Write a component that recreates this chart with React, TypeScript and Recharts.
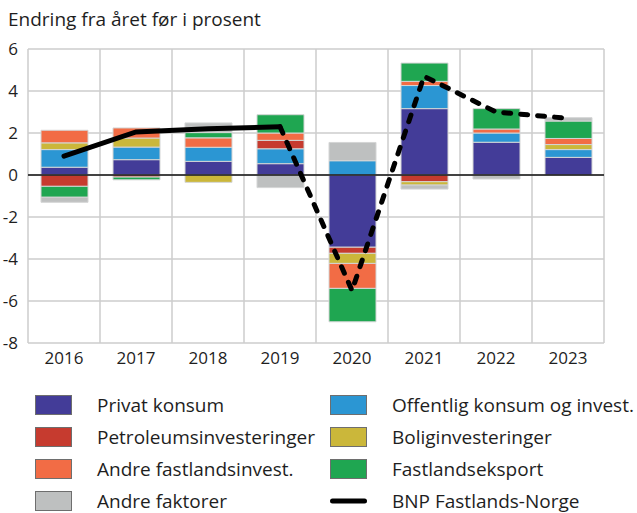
import { ComposedChart, Bar, Line, XAxis, YAxis, CartesianGrid, ReferenceLine } from 'recharts'

const years = ['2016', '2017', '2018', '2019', '2020', '2021', '2022', '2023']
const privatKonsum = [0.37, 0.73, 0.65, 0.54, -3.44, 3.16, 1.56, 0.84]
const offentlig = [0.84, 0.6, 0.67, 0.71, 0.68, 1.1, 0.44, 0.37]
const petroleum = [-0.54, -0.1, 0, 0.4, -0.29, -0.32, 0, 0]
const bolig = [0.32, 0.43, -0.35, 0, -0.48, -0.16, 0, 0.24]
const andreFastland = [0.6, 0.48, 0.45, 0.35, -1.19, 0.2, 0.19, 0.29]
const eksport = [-0.52, -0.13, 0.25, 0.87, -1.59, 0.87, 0.97, 0.83]
const andreFaktorer = [-0.24, 0, 0.46, -0.6, 0.87, -0.19, -0.19, 0.16]
const bnpSolid = [0.9, 2.05, 2.2, 2.3, null, null, null, null]
const bnpDashed = [null, null, null, 2.3, -5.5, 4.7, 3.0, 2.7]
const yTicks = [-8, -6, -4, -2, 0, 2, 4, 6]

const series = [
  { key: 'privat', name: 'Privat konsum', color: '#433c98', values: privatKonsum },
  { key: 'offentlig', name: 'Offentlig konsum og invest.', color: '#2b96d3', values: offentlig },
  { key: 'petroleum', name: 'Petroleumsinvesteringer', color: '#c63b2f', values: petroleum },
  { key: 'bolig', name: 'Boliginvesteringer', color: '#cbb73a', values: bolig },
  { key: 'andre', name: 'Andre fastlandsinvest.', color: '#f26c45', values: andreFastland },
  { key: 'eksport', name: 'Fastlandseksport', color: '#1fa651', values: eksport },
  { key: 'faktorer', name: 'Andre faktorer', color: '#bec0c0', values: andreFaktorer },
]

const data = years.map((year, i) => {
  const row: Record<string, any> = { year, bnpSolid: bnpSolid[i], bnpDashed: bnpDashed[i] }
  series.forEach((s) => {
    row[s.key] = s.values[i]
  })
  return row
})

const legendLeft = [series[0], series[2], series[4], series[6]]
const legendRight = [series[1], series[3], series[5]]

const font = '"Open Sans", sans-serif'
const tickStyle = { fontSize: 17, fill: '#1e1e1e', fontFamily: font }

function LegendItem({ color, name, line }: { color?: string; name: string; line?: boolean }) {
  return (
    <div style={{ display: 'flex', alignItems: 'center', height: 32 }}>
      {line ? (
        <svg width={37} height={8} style={{ marginRight: 25, display: 'block' }}>
          <line x1={2.5} y1={4} x2={34.5} y2={4} stroke="#000" strokeWidth={5} strokeLinecap="round" />
        </svg>
      ) : (
        <div
          style={{
            width: 35,
            height: 18,
            background: color,
            border: '1px solid #6e6e6e',
            marginRight: 25,
          }}
        />
      )}
      <span style={{ fontSize: 19, lineHeight: '24px', color: '#1e1e1e', whiteSpace: 'nowrap' }}>{name}</span>
    </div>
  )
}

export default function App() {
  return (
    <div
      style={{
        position: 'absolute',
        left: 0,
        top: 0,
        width: 637,
        height: 513,
        background: '#fff',
        fontFamily: font,
        overflow: 'hidden',
      }}
    >
      <div style={{ position: 'absolute', left: 8, top: 6, fontSize: 19, color: '#1e1e1e', whiteSpace: 'nowrap' }}>
        Endring fra året før i prosent
      </div>
      <ComposedChart
        width={637}
        height={374}
        data={data}
        stackOffset="sign"
        margin={{ top: 49, right: 0, bottom: 0, left: 0 }}
        style={{ position: 'absolute', left: 0, top: 0 }}
      >
        <CartesianGrid
          yAxisId="left"
          stroke="#cccccc"
          strokeWidth={1.5}
          verticalCoordinatesGenerator={({ offset }: any) =>
            years.map((_, i) => offset.left + (i * offset.width) / years.length).concat(offset.left + offset.width)
          }
        />
        <XAxis dataKey="year" axisLine={false} tickLine={false} tick={tickStyle} height={31} tickMargin={3} />
        <YAxis
          yAxisId="left"
          domain={[-8, 6]}
          ticks={yTicks}
          width={28}
          axisLine={false}
          tickLine={false}
          tick={tickStyle}
          tickMargin={4}
        />
        <YAxis
          yAxisId="right"
          orientation="right"
          domain={[-8, 6]}
          ticks={yTicks}
          width={33}
          axisLine={false}
          tickLine={false}
          tick={{ ...tickStyle, textAnchor: 'start' }}
          tickMargin={2}
        />
        {series.map((s) => (
          <Bar
            key={s.key}
            yAxisId="left"
            dataKey={s.key}
            name={s.name}
            stackId="a"
            fill={s.color}
            stroke="#d4d5d5"
            strokeWidth={1}
            barSize={47}
            isAnimationActive={false}
          />
        ))}
        <ReferenceLine yAxisId="left" y={0} stroke="#111" strokeWidth={1.5} />
        <Line
          yAxisId="left"
          dataKey="bnpSolid"
          name="BNP Fastlands-Norge"
          stroke="#000"
          strokeWidth={5}
          dot={false}
          strokeLinecap="round"
          isAnimationActive={false}
        />
        <Line
          yAxisId="left"
          dataKey="bnpDashed"
          stroke="#000"
          strokeWidth={5}
          strokeDasharray="7 10"
          strokeLinecap="round"
          dot={false}
          isAnimationActive={false}
        />
      </ComposedChart>
      <div style={{ position: 'absolute', left: 35, top: 389 }}>
        {legendLeft.map((s) => (
          <LegendItem key={s.key} color={s.color} name={s.name} />
        ))}
      </div>
      <div style={{ position: 'absolute', left: 330, top: 389 }}>
        {legendRight.map((s) => (
          <LegendItem key={s.key} color={s.color} name={s.name} />
        ))}
        <LegendItem name="BNP Fastlands-Norge" line />
      </div>
    </div>
  )
}
